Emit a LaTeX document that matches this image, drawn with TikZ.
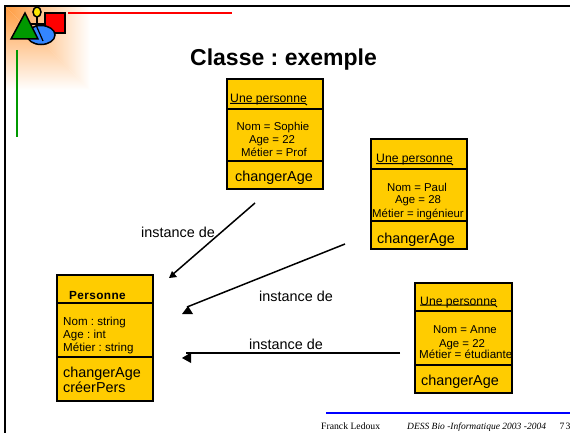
\documentclass[tikz,border=0pt]{standalone}
\usepackage{fontspec}
\setmainfont{Liberation Sans}
\newfontfamily\timesf{Liberation Serif}
\frenchspacing
\definecolor{boxy}{HTML}{FFCC00}
\definecolor{orng}{HTML}{FF9C40}
\tikzset{
  comp/.style={draw=black,line width=1.6pt,fill=boxy,rectangle,inner sep=0pt,outer sep=0pt,anchor=north west},
  attr/.style={anchor=base,inner sep=0pt,font=\fontsize{11.4}{11.4}\selectfont},
  attrl/.style={anchor=base west,inner sep=0pt,font=\fontsize{11.6}{11.6}\selectfont},
  under/.style={anchor=base west,inner sep=0pt,font=\fontsize{12.2}{12.2}\selectfont},
  meth/.style={anchor=base west,inner sep=0pt,font=\fontsize{14.4}{14.4}\selectfont},
  lab/.style={anchor=base west,inner sep=0pt,font=\fontsize{14.4}{14.4}\selectfont},
  conn/.style={draw=black,line width=1.5pt},
  headf/.style={fill=black,draw=none},
  ul/.style={draw=black,line width=1pt},
  foot/.style={anchor=base west,inner sep=0pt,font=\timesf\fontsize{9.7}{9.7}\selectfont},
}
\newcommand{\classbox}[7]{%
  \node[comp,minimum width=#3pt,minimum height=#5pt] (#1a) at (#2,#4) {};
  \node[comp,minimum width=#3pt,minimum height=#6pt] (#1b) at (#1a.south west) {};
  \node[comp,minimum width=#3pt,minimum height=#7pt] (#1c) at (#1b.south west) {};
}
\begin{document}
\begin{tikzpicture}[x=1pt,y=-1pt]
\useasboundingbox (0,0) rectangle (570,433);
\fill[white] (0,0) rectangle (570,433);
% corner glow
\shade[left color=orng,right color=white] (5,6) -- (90,6) -- (90,90) -- cycle;
\shade[top color=orng,bottom color=white] (5,6) -- (90,90) -- (5,90) -- cycle;
% frame
\draw[line width=1.5pt] (570,6) -- (5,6) -- (5,433);
\draw[red,line width=1.5pt] (68,13) -- (232,13);
\draw[green!60!black,line width=1.5pt] (17,50) -- (17,137);
\draw[blue,line width=1.5pt] (326,413) -- (570,413);
% logo
\draw[line width=1.5pt,fill=red] (45,13) rectangle (65,33);
\draw[line width=1.2pt] (37,17) -- (37,32);
\draw[line width=1.2pt] (30,24) -- (44,24);
\draw[line width=1.5pt,fill=yellow!90!orange] (37,12) ellipse (4 and 5);
\draw[line width=1.5pt,fill=blue!60!cyan!80!white] (41,35) ellipse (14 and 9.5);
\draw[line width=1.5pt,fill=green!60!black,line join=miter] (25,13) -- (38,39) -- (11,39) -- cycle;
\draw[line width=1.2pt] (36,25) -- (43,41);
% title
\node[anchor=base west,inner sep=0pt,font=\bfseries\fontsize{23}{23}\selectfont] (title) at (190,66) {Classe : exemple};
% boxes
\classbox{s}{227}{96}{79}{30}{52}{28}
\classbox{p}{371}{96}{139}{30}{52}{28}
\classbox{n}{415}{97}{283}{28}{54}{28}
\classbox{c}{57}{96}{275}{28}{54}{44}
% Sophie
\node[under] (s1) at (230,103) {Une personne};
\coordinate (s1a) at (230,103.5); \coordinate (s1b) at (305,103.5); \coordinate (s1c) at (307,105);
\draw[ul] (s1a) -- (s1b) -- (s1c);
\node[attr] (s2) at (273,131) {Nom = Sophie};
\node[attr] (s3) at (272,143) {Age = 22};
\node[attr] (s4) at (274,157) {Métier = Prof};
\node[meth] (s5) at (235,181) {changerAge};
% Paul
\node[under] (p1) at (376,162) {Une personne};
\coordinate (p1a) at (376,163.5); \coordinate (p1b) at (451,163.5); \coordinate (p1c) at (453,165);
\draw[ul] (p1a) -- (p1b) -- (p1c);
\node[attr] (p2) at (417,191) {Nom = Paul};
\node[attr] (p3) at (418,203) {Age = 28};
\node[attr] (p4) at (418,217) {Métier = ingénieur};
\node[meth] (p5) at (377,243) {changerAge};
% Anne
\node[under] (n1) at (420,305) {Une personne};
\coordinate (n1a) at (420,305); \coordinate (n1b) at (495,305); \coordinate (n1c) at (497,307);
\draw[ul] (n1a) -- (n1b) -- (n1c);
\node[attr] (n2) at (465,333) {Nom = Anne};
\node[attr] (n3) at (462,347) {Age = 22};
\node[attrl] (n4) at (419,358) {Métier = étudiante};
\node[meth] (n5) at (421,385) {changerAge};
% Personne
\node[anchor=base west,inner sep=0pt,font=\bfseries\fontsize{11.8}{11.8}\selectfont] (c1) at (69,299) {P\kern.4pt e\kern.4pt r\kern.4pt s\kern.4pt o\kern.4pt n\kern.4pt n\kern.4pt e};
\node[attrl] (c2) at (63,325) {Nom : string};
\node[attrl] (c3) at (63,338) {Age : int};
\node[attrl] (c4) at (63,351) {Métier : string};
\node[meth] (c5) at (63,377) {changerAge};
\node[meth] (c6) at (63,392) {créerPers};
% connectors
\coordinate (a1s) at (255,203); \coordinate (a1e) at (172,275);
\coordinate (a2s) at (345,244); \coordinate (a2e) at (187,307);
\coordinate (a3s) at (400,353); \coordinate (a3e) at (186,353);
\draw[conn] (a1s) -- (a1e);
\draw[conn] (a2s) -- (a2e);
\draw[conn] (a3s) -- (a3e);
\fill[headf] (169,278) -- (172,271) -- (177,277) -- cycle;
\fill[headf] (188,306) -- (193,314) -- (182,314) -- cycle;
\fill[headf] (182,358) -- (191,352.5) -- (191,363) -- cycle;
\node[lab] (l1) at (141,237) {instance de};
\node[lab] (l2) at (259,301) {instance de};
\node[lab] (l3) at (249,349) {instance de};
% footer
\node[foot] (f1) at (321,429) {Franck Ledoux};
\node[foot,font=\timesf\itshape\fontsize{9.5}{9.5}\selectfont] (f2) at (407,429) {DESS Bio -Informatique 2003 -2004};
\node[foot] (f3) at (559.5,429) {7\kern1pt 3};
\end{tikzpicture}
\end{document}
